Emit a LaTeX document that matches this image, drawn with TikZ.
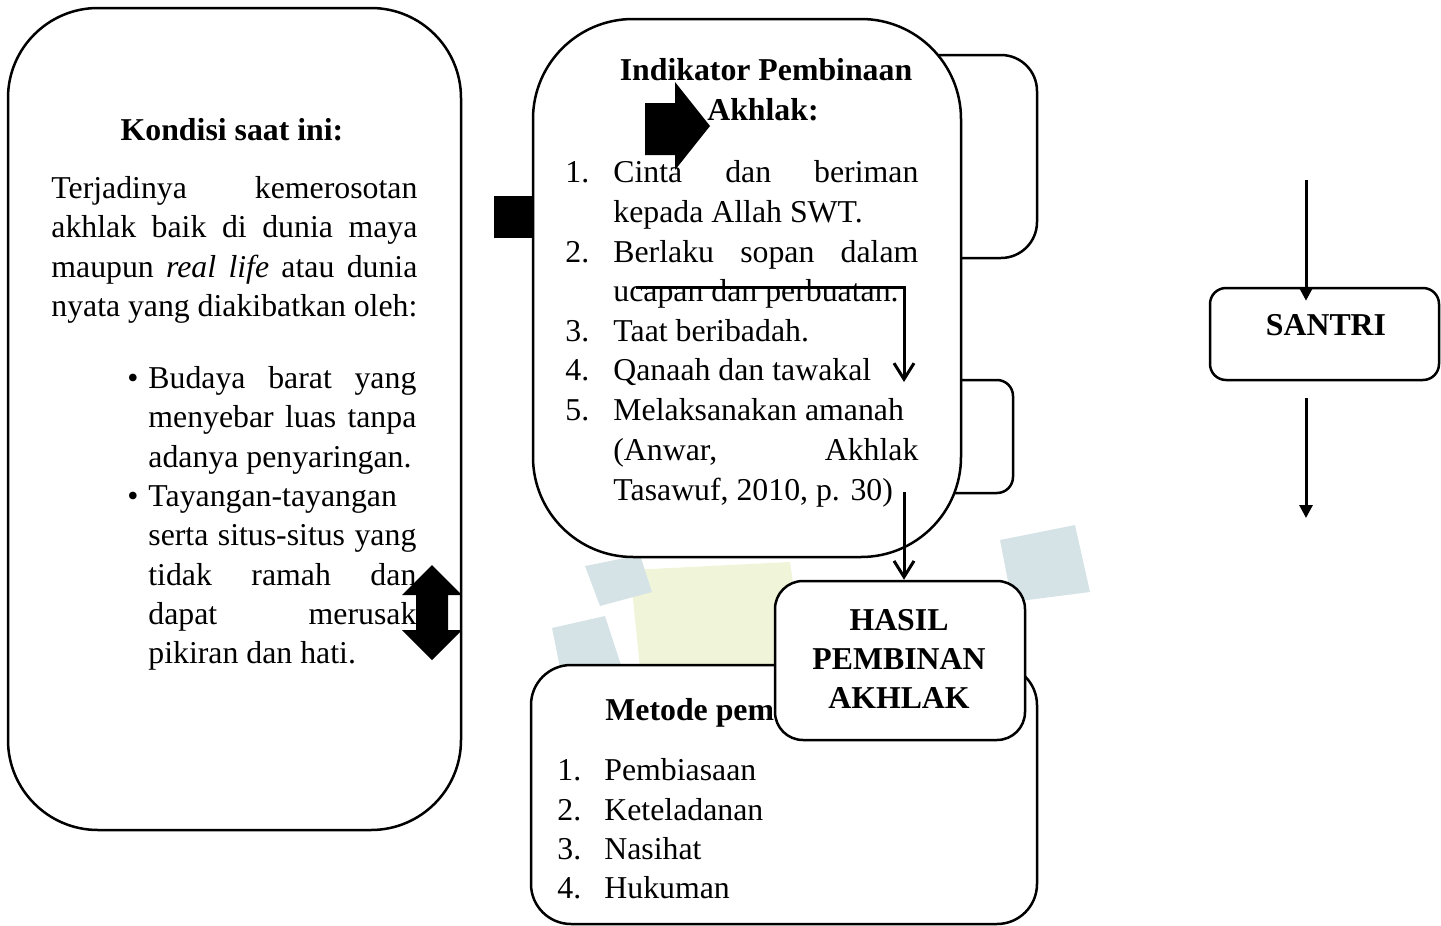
\documentclass[tikz,border=0pt]{standalone}
\usepackage{fontspec}
\setmainfont{Liberation Serif}
\usetikzlibrary{arrows.meta,positioning}

\definecolor{wmbiru}{RGB}{214,227,230}
\definecolor{wmkuning}{RGB}{240,244,216}

\newcommand{\rata}[2]{\makebox[#1][s]{#2}}

\tikzset{
  kotak/.style={draw, line width=1.25pt, fill=white, inner sep=0pt},
  teks/.style={inner sep=0pt, font=\fontsize{15.9}{19.8}\selectfont},
  judul/.style={inner sep=0pt, font=\fontsize{15.9}{19.8}\selectfont\bfseries},
  alur/.style={line width=1.5pt, -{Straight Barb[length=8pt,width=10pt]}},
  turun/.style={line width=1.5pt, -{Triangle[length=6.5pt,width=6.5pt]}}
}

\begin{document}
\begin{tikzpicture}[x=0.5pt, y=-0.5pt]
    \useasboundingbox (0,0) rectangle (1441,926);

    % logo samar di latar
    \fill[wmkuning] (630,570) -- (790,562) -- (805,665) -- (640,668) -- cycle;
    \fill[wmbiru] (585,566) -- (640,555) -- (652,592) -- (600,606) -- cycle;
    \fill[wmbiru] (552,628) -- (605,616) -- (622,668) -- (560,668) -- cycle;
    \fill[wmbiru] (1000,540) -- (1075,525) -- (1090,592) -- (1012,602) -- cycle;

    % kotak di belakang
    \node[kotak, rounded corners=18pt, minimum width=68.5pt, minimum height=101.5pt] (kotakatas) at (968.5,156.5) {};
    \node[kotak, rounded corners=8pt, minimum width=56.5pt, minimum height=56.5pt] (kotaktengah) at (956.5,436.5) {};
    \fill (494,196) rectangle (540,238);

    % kotak utama
    \node[kotak, rounded corners=45pt, minimum width=226.5pt, minimum height=411pt] (kondisi) at (234.5,419) {};
    \node[kotak, rounded corners=50pt, minimum width=214pt, minimum height=269pt] (indikator) at (747,288) {};
    \node[kotak, rounded corners=20pt, minimum width=253pt, minimum height=129.5pt] (metode) at (784,794.5) {};
    \node[kotak, rounded corners=8pt, minimum width=114.5pt, minimum height=46pt] (santri) at (1324.5,334) {};

    % kondisi saat ini
    \node[judul, anchor=base] (judulkondisi) at (232,140) {Kondisi saat ini:};
    \node[teks, anchor=base west] (kondisi1) at (51,198) {\rata{183pt}{Terjadinya kemerosotan}};
    \node[teks, anchor=base west] (kondisi2) at (51,237) {\rata{183pt}{akhlak baik di dunia maya}};
    \node[teks, anchor=base west] (kondisi3) at (51,277) {\rata{183pt}{maupun \textit{real life} atau dunia}};
    \node[teks, anchor=base west] (kondisi4) at (51,316) {\rata{183pt}{nyata yang diakibatkan oleh:}};
    \foreach \y [count=\i] in {388,506}
        \node[teks, anchor=base] (titik\i) at (133,\y) {\textbullet};
    \node[teks, anchor=base west] (sebab1) at (148,388) {\rata{134pt}{Budaya barat yang}};
    \node[teks, anchor=base west] (sebab2) at (148,427) {\rata{134pt}{menyebar luas tanpa}};
    \node[teks, anchor=base west] (sebab3) at (148,467) {adanya penyaringan.};
    \node[teks, anchor=base west] (sebab4) at (148,506) {Tayangan-tayangan};
    \node[teks, anchor=base west] (sebab5) at (148,545) {\rata{134pt}{serta situs-situs yang}};
    \node[teks, anchor=base west] (sebab6) at (148,585) {\rata{134pt}{tidak ramah dan}};
    \node[teks, anchor=base west] (sebab7) at (148,624) {\rata{134pt}{dapat merusak}};
    \node[teks, anchor=base west] (sebab8) at (148,663) {pikiran dan hati.};

    % panah ganda
    \fill (432,565) -- (462,595) -- (448,595) -- (448,630) -- (462,630) -- (432,660)
        -- (402,630) -- (416,630) -- (416,595) -- (402,595) -- cycle;

    % indikator
    \node[judul, anchor=base] (judulind1) at (766,80) {Indikator Pembinaan};
    \node[judul, anchor=base] (judulind2) at (763,120) {Akhlak:};
    \foreach \n/\y in {1/182, 2/262, 3/341, 4/380, 5/420}
        \node[teks, anchor=base west] (nomor\n) at (565,\y) {\n.};
    \node[teks, anchor=base west] (ind1) at (613,182) {\rata{152.5pt}{Cinta dan beriman}};
    \node[teks, anchor=base west] (ind2) at (613,222) {kepada Allah SWT.};
    \node[teks, anchor=base west] (ind3) at (613,262) {\rata{152.5pt}{Berlaku sopan dalam}};
    \node[teks, anchor=base west] (ind4) at (613,301) {ucapan dan perbuatan.};
    \node[teks, anchor=base west] (ind5) at (613,341) {Taat beribadah.};
    \node[teks, anchor=base west] (ind6) at (613,380) {Qanaah dan tawakal};
    \node[teks, anchor=base west] (ind7) at (613,420) {Melaksanakan amanah};
    \node[teks, anchor=base west] (ind8) at (613,460) {\rata{152.5pt}{(Anwar, Akhlak}};
    \node[teks, anchor=base west] (ind9) at (613,500) {Tasawuf, 2010, p. 30)};

    % panah blok
    \fill (645,103) -- (675,103) -- (675,82) -- (710,126) -- (675,170) -- (675,155) -- (645,155) -- cycle;

    % metode
    \node[judul, anchor=base west] (judulmetode) at (605,720) {Metode pem};
    \foreach \n/\y/\t in {1/780/Pembiasaan, 2/820/Keteladanan, 3/859/Nasihat, 4/898/Hukuman} {
        \node[teks, anchor=base west] (nometode\n) at (557,\y) {\n.};
        \node[teks, anchor=base west] (metode\n) at (604,\y) {\t};
    }

    % hasil
    \node[kotak, rounded corners=14pt, minimum width=125pt, minimum height=79.5pt] (hasil) at (900,660.5) {};
    \node[judul, anchor=base] (hasil1) at (899,630) {HASIL};
    \node[judul, anchor=base] (hasil2) at (899,669) {PEMBINAN};
    \node[judul, anchor=base] (hasil3) at (899,708) {AKHLAK};

    % santri
    \node[judul, anchor=base] (santrilabel) at (1326,335) {SANTRI};

    % panah
    \coordinate (garismulai) at (636,287);
    \coordinate (garisujung) at (904,382);
    \draw[alur] (garismulai) -| (garisujung);
    \coordinate (tasawufujung) at (904,492);
    \draw[alur] (tasawufujung) -- (tasawufujung |- hasil.north);
    \coordinate (santriatas) at (1306,180);
    \coordinate (santribawah) at (1306,518);
    \draw[turun] (santriatas) -- ([yshift=-7pt]santriatas |- santri.north);
    \draw[turun] ([yshift=-8.5pt]santriatas |- santri.south) -- (santribawah);
\end{tikzpicture}
\end{document}
